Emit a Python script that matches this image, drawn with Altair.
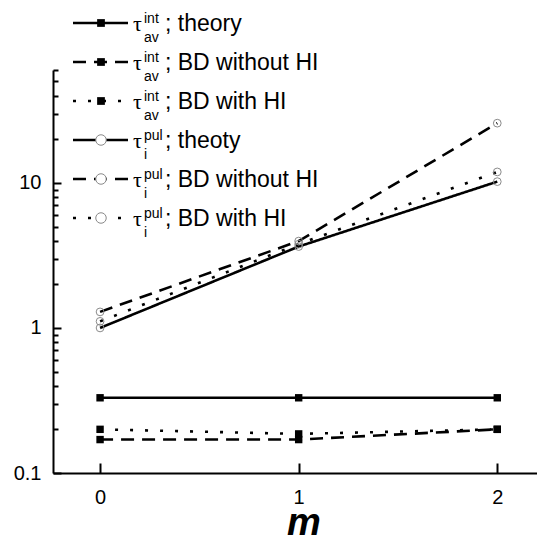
import altair as alt
import pandas as pd

# ---------------- data ----------------
m_values = [0, 1, 2]
int_theory = [0.33, 0.33, 0.33]
int_bd_without = [0.17, 0.17, 0.20]
int_bd_with = [0.20, 0.186, 0.20]
pul_theory = [1.0, 3.64, 10.2]
pul_bd_without = [1.29, 3.97, 25.8]
pul_bd_with = [1.11, 3.78, 11.9]

series_ids = ["int_theory", "int_without", "int_with", "pul_theory", "pul_without", "pul_with"]
series_values = [int_theory, int_bd_without, int_bd_with, pul_theory, pul_bd_without, pul_bd_with]
series_styles = ["solid", "dashed", "dotted", "solid", "dashed", "dotted"]
series_kinds = ["square", "square", "square", "circle", "circle", "circle"]

legend_sup = ["int", "int", "int", "pul", "pul", "pul"]
legend_sub = ["av", "av", "av", "i", "i", "i"]
legend_text = ["; theory", "; BD without HI", "; BD with HI", ";  theoty", "; BD without HI", "; BD with HI"]

x_ticks = [0, 1, 2]
y_ticks = [0.1, 0.2, 0.3, 0.4, 0.5, 0.6, 0.7, 0.8, 0.9,
           1, 2, 3, 4, 5, 6, 7, 8, 9,
           10, 20, 30, 40, 50, 60]

rows = []
for sid, vals, st, kd in zip(series_ids, series_values, series_styles, series_kinds):
    for m, v in zip(m_values, vals):
        rows.append({"series": sid, "m": m, "value": v, "style": st, "kind": kd})
df = pd.DataFrame(rows)

leg = pd.DataFrame({
    "row": list(range(6)),
    "sup": legend_sup,
    "sub": legend_sub,
    "txt": legend_text,
    "style": series_styles,
    "kind": series_kinds,
})

W, H = 484, 403
FONT = "Liberation Sans"

dash_scale = alt.Scale(domain=["solid", "dashed", "dotted"], range=[[1, 0], [13, 8], [3, 12]])

x_enc = alt.X(
    "m:Q",
    scale=alt.Scale(domain=[-0.237, 2.2], nice=False, zero=False),
    axis=alt.Axis(
        orient="top", offset=-H, values=x_ticks, title=None, grid=False,
        tickSize=10, tickWidth=2, domainWidth=2, domainColor="black", tickColor="black",
        labelBaseline="top", labelPadding=-24, labelFontSize=20, labelFont=FONT,
        labelColor="black", labelFlush=False, format="d",
    ),
)
y_enc = alt.Y(
    "value:Q",
    scale=alt.Scale(type="log", domain=[0.1, 60], nice=False),
    axis=alt.Axis(
        orient="right", offset=-W, values=y_ticks, title=None, grid=False,
        tickSize={"condition": {"test": "datum.value == 0.1 || datum.value == 1 || datum.value == 10", "value": 8}, "value": 5},
        tickWidth=2, domainWidth=2, domainColor="black", tickColor="black",
        labelExpr="datum.value == 0.1 ? '0.1' : (datum.value == 1 ? '1' : (datum.value == 10 ? '10' : ''))",
        labelAlign="right", labelBaseline="middle", labelPadding=-20, labelFontSize=20,
        labelFont=FONT, labelColor="black", labelFlush=False, labelOverlap=False,
    ),
)

base = alt.Chart(df)

lines = base.mark_line(color="black", strokeWidth=2.6).encode(
    x=x_enc, y=y_enc, detail="series:N",
    strokeDash=alt.StrokeDash("style:N", scale=dash_scale, legend=None),
)
squares = base.transform_filter(alt.datum.kind == "square").mark_square(
    color="black", size=55, opacity=1
).encode(x=x_enc, y=y_enc)
circles = base.transform_filter(alt.datum.kind == "circle").mark_point(
    shape="circle", filled=False, color="#8a8a8a", size=60, strokeWidth=1, opacity=1
).encode(x=x_enc, y=y_enc)

# ---------------- custom legend (top-left) ----------------
lg = alt.Chart(leg).transform_calculate(
    ly="23 + 39 * datum.row - 70",
    ty="23 + 39 * datum.row - 70 + 8",
    supy="23 + 39 * datum.row - 70 + 0",
    suby="23 + 39 * datum.row - 70 + 19",
)
ly = alt.Y("ly:Q", scale=None, axis=None)
leg_lines = lg.mark_rule(color="black", strokeWidth=2.6).encode(
    x=alt.value(20), x2=alt.value(75), y=ly,
    strokeDash=alt.StrokeDash("style:N", scale=dash_scale, legend=None),
)
leg_sq = lg.transform_filter(alt.datum.kind == "square").mark_square(
    color="black", size=60, opacity=1
).encode(x=alt.value(48), y=ly)
leg_ci = lg.transform_filter(alt.datum.kind == "circle").mark_point(
    shape="circle", filled=True, fill="white", stroke="#8a8a8a", size=110, strokeWidth=1, opacity=1
).encode(x=alt.value(48), y=ly)
leg_tau = lg.mark_text(
    text="τ", font="Liberation Serif", fontSize=22, align="left", baseline="alphabetic", color="black"
).encode(x=alt.value(80), y=alt.Y("ty:Q", scale=None, axis=None))
leg_sup = lg.mark_text(
    font=FONT, fontSize=14, align="left", baseline="alphabetic", color="black"
).encode(x=alt.value(91), y=alt.Y("supy:Q", scale=None, axis=None), text="sup:N")
leg_sub = lg.mark_text(
    font=FONT, fontSize=14, align="left", baseline="alphabetic", color="black"
).encode(x=alt.value(91), y=alt.Y("suby:Q", scale=None, axis=None), text="sub:N")
leg_txt = lg.mark_text(
    font=FONT, fontSize=23, align="left", baseline="alphabetic", color="black"
).encode(x=alt.value(112), y=alt.Y("ty:Q", scale=None, axis=None), text="txt:N")

title_m = alt.Chart(pd.DataFrame({"t": ["m"]})).mark_text(
    font=FONT, fontSize=38, fontWeight="bold", fontStyle="italic", align="center",
    baseline="alphabetic", color="black"
).encode(x=alt.value(251), y=alt.value(465), text="t:N")

chart = alt.layer(
    lines, squares, circles,
    leg_lines, leg_sq, leg_ci, leg_tau, leg_sup, leg_sub, leg_txt,
    title_m,
).properties(
    width=W, height=H,
    autosize=alt.AutoSizeParams(type="none"),
    padding={"left": 53, "top": 70, "right": 0, "bottom": 71},
    background="white",
).configure_view(stroke=None)

chart.save("out.html", embed_options={"renderer": "svg", "actions": False})
